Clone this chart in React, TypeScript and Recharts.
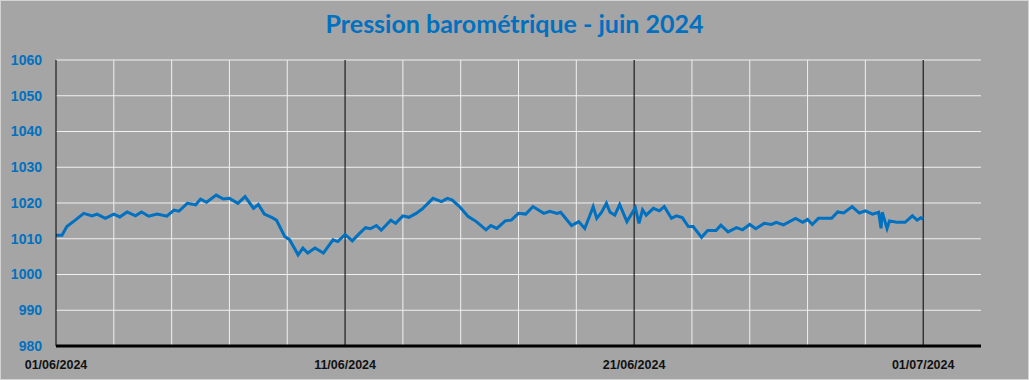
import { LineChart, Line, XAxis, YAxis, CartesianGrid, ReferenceLine } from "recharts"

// heures depuis le 01/06/2024 00:00
const hours = [
  0, 5, 9, 16, 23, 30, 34, 41, 48, 53, 59, 66, 71, 77, 84, 92, 98, 102, 109, 116,
  120, 125, 133, 139, 144, 151, 157, 164, 168, 173, 179, 183, 190, 194, 201, 205, 209, 215, 222, 230,
  234, 240, 246, 252, 257, 261, 266, 270, 278, 282, 288, 293, 299, 304, 313, 320, 325, 329, 335, 342,
  349, 357, 361, 366, 373, 378, 384, 390, 396, 405, 410, 416, 419, 428, 434, 439, 443, 446, 449, 453,
  457, 460, 464, 468, 474, 481, 484, 487, 490, 496, 501, 505, 511, 515, 520, 525, 529, 536, 541, 548,
  552, 558, 565, 570, 576, 581, 588, 594, 598, 604, 614, 620, 624, 628, 633, 644, 649, 654, 661, 667,
  672, 678, 683, 685, 686, 690, 692, 698, 705, 711, 715, 718, 720,
]

const pressure = [
  1011.0, 1011.0, 1013.4, 1015.2, 1017.1, 1016.4, 1016.9, 1015.7, 1016.9, 1016.1, 1017.5, 1016.4, 1017.5, 1016.3, 1016.9, 1016.3, 1018.0, 1017.7, 1019.9, 1019.5,
  1021.1, 1020.2, 1022.2, 1021.1, 1021.3, 1019.9, 1021.8, 1018.5, 1019.6, 1016.9, 1016.0, 1015.2, 1010.6, 1009.7, 1005.5, 1007.4, 1006.0, 1007.4, 1006.0, 1009.7,
  1009.2, 1011.2, 1009.4, 1011.5, 1013.1, 1012.8, 1013.7, 1012.4, 1015.2, 1014.3, 1016.4, 1016.0, 1017.1, 1018.3, 1021.3, 1020.4, 1021.3, 1020.8, 1019.0, 1016.3,
  1014.8, 1012.5, 1013.7, 1012.9, 1015.0, 1015.2, 1017.1, 1016.9, 1019.0, 1017.1, 1017.7, 1017.1, 1017.4, 1013.7, 1014.8, 1012.9, 1016.3, 1019.0, 1015.7, 1017.4,
  1019.9, 1017.4, 1016.6, 1019.6, 1014.8, 1018.7, 1014.3, 1018.1, 1016.6, 1018.5, 1017.8, 1019.0, 1015.7, 1016.4, 1015.9, 1013.4, 1013.4, 1010.4, 1012.3, 1012.3,
  1013.8, 1011.9, 1013.1, 1012.5, 1014.0, 1012.8, 1014.3, 1014.0, 1014.6, 1013.9, 1015.7, 1014.6, 1015.4, 1014.0, 1015.7, 1015.7, 1017.5, 1017.2, 1019.0, 1017.2,
  1017.8, 1016.9, 1017.4, 1012.9, 1017.4, 1012.9, 1015.0, 1014.6, 1014.6, 1016.4, 1015.2, 1015.9, 1015.5,
]

const dateTicks = [0, 240, 480, 720]
const dateLabels = ["01/06/2024", "11/06/2024", "21/06/2024", "01/07/2024"]
const gridHours = [48, 96, 144, 192, 288, 336, 384, 432, 528, 576, 624, 672]
const yTicks = [980, 990, 1000, 1010, 1020, 1030, 1040, 1050, 1060]

const data = hours.map((h, i) => ({ h, p: pressure[i] }))

const BLUE = "#0070C0"

export default function App() {
  return (
    <div
      style={{
        position: "absolute",
        left: 0,
        top: 0,
        width: 1029,
        height: 380,
        boxSizing: "border-box",
        border: "1px solid #d4d4d4",
        background: "#a5a5a5",
      }}
    >
      <div
        style={{
          position: "absolute",
          left: 0,
          top: 7,
          width: 1027,
          textAlign: "center",
          color: BLUE,
          fontFamily: "Lato, sans-serif",
          fontWeight: 700,
          fontSize: 25,
        }}
      >
        Pression barométrique - juin 2024
      </div>
      <LineChart
        width={1027}
        height={378}
        data={data}
        margin={{ top: 59, right: 47, left: 0, bottom: 0 }}
      >
        <CartesianGrid vertical={false} stroke="#f0f0f0" strokeWidth={1} />
        {gridHours.map((g) => (
          <ReferenceLine key={`g-${g}`} x={g} stroke="#f0f0f0" strokeWidth={1} />
        ))}
        {dateTicks.slice(1).map((t) => (
          <ReferenceLine key={`d-${t}`} x={t} stroke="#000" strokeWidth={1} />
        ))}
        <XAxis
          dataKey="h"
          type="number"
          domain={[0, 768]}
          ticks={dateTicks}
          tickFormatter={(v) => dateLabels[dateTicks.indexOf(v)] ?? ""}
          interval={0}
          height={33}
          tickLine={false}
          tickMargin={8}
          axisLine={{ stroke: "#000", strokeWidth: 3 }}
          tick={{ fill: "#111", fontSize: 12.5, fontWeight: 700, fontFamily: "'Liberation Sans', Arial, sans-serif" }}
        />
        <YAxis
          domain={[980, 1060]}
          ticks={yTicks}
          interval={0}
          width={55}
          tickLine={false}
          tickMargin={8}
          axisLine={{ stroke: "#000", strokeWidth: 1 }}
          tick={{ fill: BLUE, fontSize: 14, fontWeight: 700, fontFamily: "'Liberation Sans', Arial, sans-serif" }}
        />
        <Line
          dataKey="p"
          type="linear"
          stroke={BLUE}
          strokeWidth={3}
          dot={false}
          isAnimationActive={false}
        />
      </LineChart>
    </div>
  )
}
